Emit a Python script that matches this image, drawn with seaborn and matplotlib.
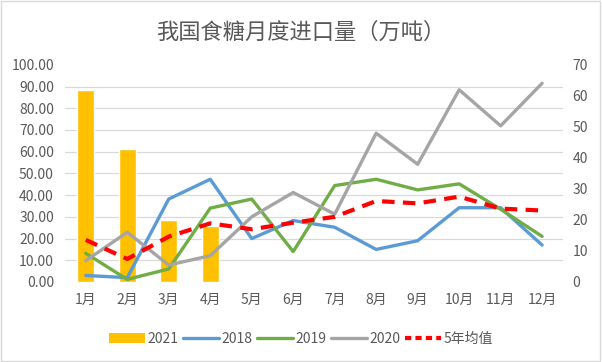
import matplotlib
matplotlib.use("Agg")
import matplotlib.pyplot as plt
import seaborn as sns
import numpy as np
import pandas as pd
from matplotlib.patches import Rectangle, Patch
from matplotlib.lines import Line2D

# data
months = ["1月", "2月", "3月", "4月", "5月", "6月", "7月", "8月", "9月", "10月", "11月", "12月"]
imports_2021 = [62, 43, 20, 18]   # right axis
imports_2018 = [3, 2, 38.2, 47.3, 20, 28.3, 25.2, 15, 19, 34.2, 34.2, 17]
imports_2019 = [13.2, 1.2, 6, 34, 38.2, 14, 44.4, 47.3, 42.4, 45.2, 33.5, 21]
imports_2020 = [9.8, 22.9, 7.8, 12.1, 30, 41.2, 31.2, 68.5, 54.2, 88.5, 71.9, 91.5]
avg_5yr = [19.4, 10.6, 20.9, 27, 24.3, 27.3, 30, 37.3, 36.2, 39.3, 33.8, 32.9]

text_color = "#595959"
grid_color = "#D9D9D9"

sns.set_style("white")
plt.rcParams["font.family"] = ["Noto Sans CJK SC", "DejaVu Sans"]

fig = plt.figure(figsize=(6.02, 3.62), dpi=100)
ax = fig.add_axes([0.108, 0.221, 0.827, 0.600])
ax2 = ax.twinx()

# bars on the right axis, behind the lines
bar_df = pd.DataFrame({"month": months[:4], "value": imports_2021})
sns.barplot(data=bar_df, x="month", y="value", order=months, color="#FFC000",
            width=0.4, saturation=1, ax=ax2)

x = np.arange(len(months))
series = [
    ("2018", imports_2018, "#5B9BD5", "-"),
    ("2019", imports_2019, "#70AD47", "-"),
    ("2020", imports_2020, "#A5A5A5", "-"),
]
for name, vals, color, ls in series:
    sns.lineplot(x=x, y=vals, color=color, lw=2.4, ax=ax)
sns.lineplot(x=x, y=avg_5yr, color="#FF0000", lw=3, ax=ax)
ax.lines[-1].set_dashes((3, 2))

ax.set_zorder(ax2.get_zorder() + 1)
ax.patch.set_visible(False)

ax.set_xlim(-0.5, 11.5)
ax.set_ylim(0, 100)
ax2.set_ylim(0, 70)
ax.set_xticks(x)
ax.set_xticklabels(months)
ax.set_yticks(np.arange(0, 101, 10))
ax.set_yticklabels([f"{v:.2f}" for v in np.arange(0, 101, 10)])
ax2.set_yticks(np.arange(0, 71, 10))

# gridlines drawn on the lower axes so bars hide them
ax2.set_yticks(np.linspace(0, 70, 11), minor=True)
ax2.grid(False)
ax2.grid(which="minor", axis="y", color=grid_color, lw=0.9)
ax.grid(False)

for a in (ax, ax2):
    for s in a.spines.values():
        s.set_visible(False)
    a.set_xlabel("")
    a.set_ylabel("")
ax.tick_params(axis="both", length=0, labelsize=10, labelcolor=text_color)
ax.tick_params(axis="y", pad=8)
ax.tick_params(axis="x", pad=8)
ax2.tick_params(axis="y", which="both", length=0, labelsize=10,
                labelcolor=text_color, pad=7)

fig.text(0.5, 0.912, "我国食糖月度进口量（万吨）", ha="center", va="center",
         fontsize=16, color=text_color)

handles = [
    Patch(facecolor="#FFC000", edgecolor="none"),
    Line2D([], [], color="#5B9BD5", lw=2.4),
    Line2D([], [], color="#70AD47", lw=2.4),
    Line2D([], [], color="#A5A5A5", lw=2.4),
    Line2D([], [], color="#FF0000", lw=3, dashes=(1.5, 1)),
]
labels = ["2021", "2018", "2019", "2020", "5年均值"]
leg = fig.legend(handles, labels, loc="center", bbox_to_anchor=(0.5, 0.063),
                 ncol=5, frameon=False, fontsize=10, handlelength=2.6,
                 handletextpad=0.2, columnspacing=0.3)
for t in leg.get_texts():
    t.set_color(text_color)

fig.patches.append(Rectangle((0.002, 0.003), 0.995, 0.993, transform=fig.transFigure,
                             fill=False, edgecolor=grid_color, lw=1))

fig.savefig("out.png", dpi=100)
